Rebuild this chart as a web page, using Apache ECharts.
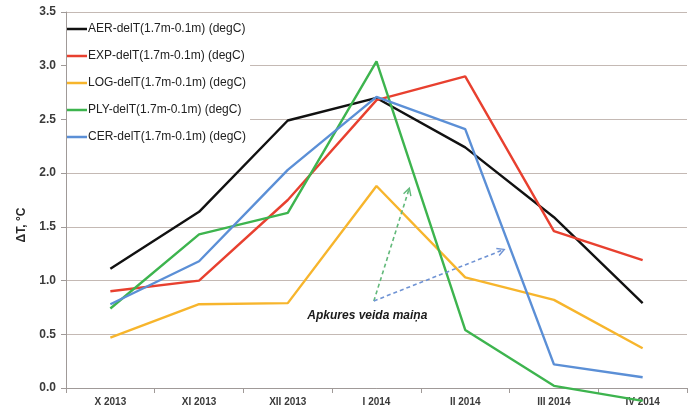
<!DOCTYPE html>
<html>
<head>
<meta charset="utf-8">
<script src="https://cdn.jsdelivr.net/npm/echarts@6/dist/echarts.min.js"></script>
<style>
  html, body { margin: 0; padding: 0; background: #fff; }
  #main { width: 693px; height: 414px; }
</style>
</head>
<body>
<div id="main"></div>
<script>
// months on the x axis
var months = ['X 2013', 'XI 2013', 'XII 2013', 'I 2014', 'II 2014', 'III 2014', 'IV 2014'];

// delta T (1.7m - 0.1m), degC
var aer = [1.11, 1.64, 2.49, 2.70, 2.24, 1.59, 0.79];
var exp = [0.90, 1.00, 1.75, 2.68, 2.90, 1.46, 1.19];
var log = [0.47, 0.78, 0.79, 1.88, 1.03, 0.82, 0.37];
var ply = [0.74, 1.43, 1.63, 3.04, 0.54, 0.02, -0.12];
var cer = [0.78, 1.18, 2.03, 2.71, 2.41, 0.22, 0.10];

var seriesNames = [
    'AER-delT(1.7m-0.1m) (degC)',
    'EXP-delT(1.7m-0.1m) (degC)',
    'LOG-delT(1.7m-0.1m) (degC)',
    'PLY-delT(1.7m-0.1m) (degC)',
    'CER-delT(1.7m-0.1m) (degC)'
];
var seriesData = [aer, exp, log, ply, cer];
var colors = ['#111111', '#e8402f', '#f7b52c', '#3db44e', '#5b8fd6'];

// annotation anchors in data units [category index, value]
var arrowFrom = [2.97, 0.81];
var arrowGreenTo = [3.37, 1.86];
var arrowBlueTo = [4.44, 1.29];
var noteAt = [2.22, 0.67];
var noteText = 'Apkures veida maiņa';

var FONT = 'Liberation Sans';
var myChart = echarts.init(document.getElementById('main'));

var option = {
    animation: false,
    backgroundColor: '#fff',
    textStyle: { fontFamily: FONT },
    grid: { left: 66, right: 6, top: 12, bottom: 26 },
    legend: {
        orient: 'vertical',
        left: 67,
        top: 20,
        icon: 'rect',
        itemWidth: 20,
        itemHeight: 2.5,
        itemGap: 13,
        padding: [2, 4, 4, 0],
        backgroundColor: '#fff',
        textStyle: { fontSize: 12, color: '#222', fontFamily: FONT, padding: [0, 0, 0, -4], lineHeight: 14 },
        data: seriesNames
    },
    xAxis: {
        type: 'category',
        data: months,
        boundaryGap: true,
        axisLine: { lineStyle: { color: '#a09a98', width: 1 } },
        axisTick: { show: true, length: 5, lineStyle: { color: '#a09a98' } },
        axisLabel: { fontSize: 10, fontWeight: 'bold', color: '#3a3a3a', margin: 9 },
        splitLine: { show: false }
    },
    yAxis: {
        type: 'value',
        min: 0,
        max: 3.5,
        interval: 0.5,
        axisLine: { show: true, lineStyle: { color: '#a09a98', width: 1 } },
        axisTick: { show: true, length: 5, lineStyle: { color: '#a09a98' } },
        axisLabel: {
            fontSize: 12, fontWeight: 'bold', color: '#3a3a3a', margin: 10,
            formatter: function (v) { return v.toFixed(1); }
        },
        splitLine: { lineStyle: { color: '#c4b9b4', width: 1.2 } }
    },
    series: seriesNames.map(function (name, i) {
        return {
            name: name,
            type: 'line',
            data: seriesData[i],
            symbol: 'none',
            clip: false,
            color: colors[i],
            lineStyle: { width: 2.4, color: colors[i] }
        };
    })
};

myChart.setOption(option);

// convert a fractional category index + value to pixels
function toPx(p) {
    var a = myChart.convertToPixel({ xAxisIndex: 0 }, 0);
    var b = myChart.convertToPixel({ xAxisIndex: 0 }, 1);
    var y = myChart.convertToPixel({ yAxisIndex: 0 }, p[1]);
    return [a + (b - a) * p[0], y];
}

function dashedArrow(from, to, color) {
    var p0 = toPx(from), p1 = toPx(to);
    var ang = Math.atan2(p1[1] - p0[1], p1[0] - p0[0]);
    var len = 8, spread = 0.5;
    var h1 = [p1[0] - len * Math.cos(ang - spread), p1[1] - len * Math.sin(ang - spread)];
    var h2 = [p1[0] - len * Math.cos(ang + spread), p1[1] - len * Math.sin(ang + spread)];
    return [
        {
            type: 'line',
            shape: { x1: p0[0], y1: p0[1], x2: p1[0], y2: p1[1] },
            style: { stroke: color, lineWidth: 1.6, lineDash: [4, 3] },
            z: 10
        },
        {
            type: 'polyline',
            shape: { points: [h1, p1, h2] },
            style: { stroke: color, lineWidth: 1.4, fill: null },
            z: 10
        }
    ];
}

var notePx = toPx(noteAt);
var graphics = []
    .concat(dashedArrow(arrowFrom, arrowGreenTo, '#62b97a'))
    .concat(dashedArrow(arrowFrom, arrowBlueTo, '#6f93d4'))
    .concat([
        {
            type: 'text',
            x: notePx[0],
            y: notePx[1],
            style: {
                text: noteText,
                font: 'italic bold 12px ' + FONT,
                fill: '#1a1a1a',
                textAlign: 'left',
                textVerticalAlign: 'middle'
            },
            z: 10
        },
        {
            type: 'text',
            x: 22,
            y: 225,
            rotation: Math.PI / 2,
            style: {
                text: 'ΔT, °C',
                font: 'bold 12px ' + FONT,
                fill: '#2a2a2a',
                textAlign: 'center',
                textVerticalAlign: 'middle'
            }
        }
    ]);

myChart.setOption({ graphic: graphics });
</script>
</body>
</html>
